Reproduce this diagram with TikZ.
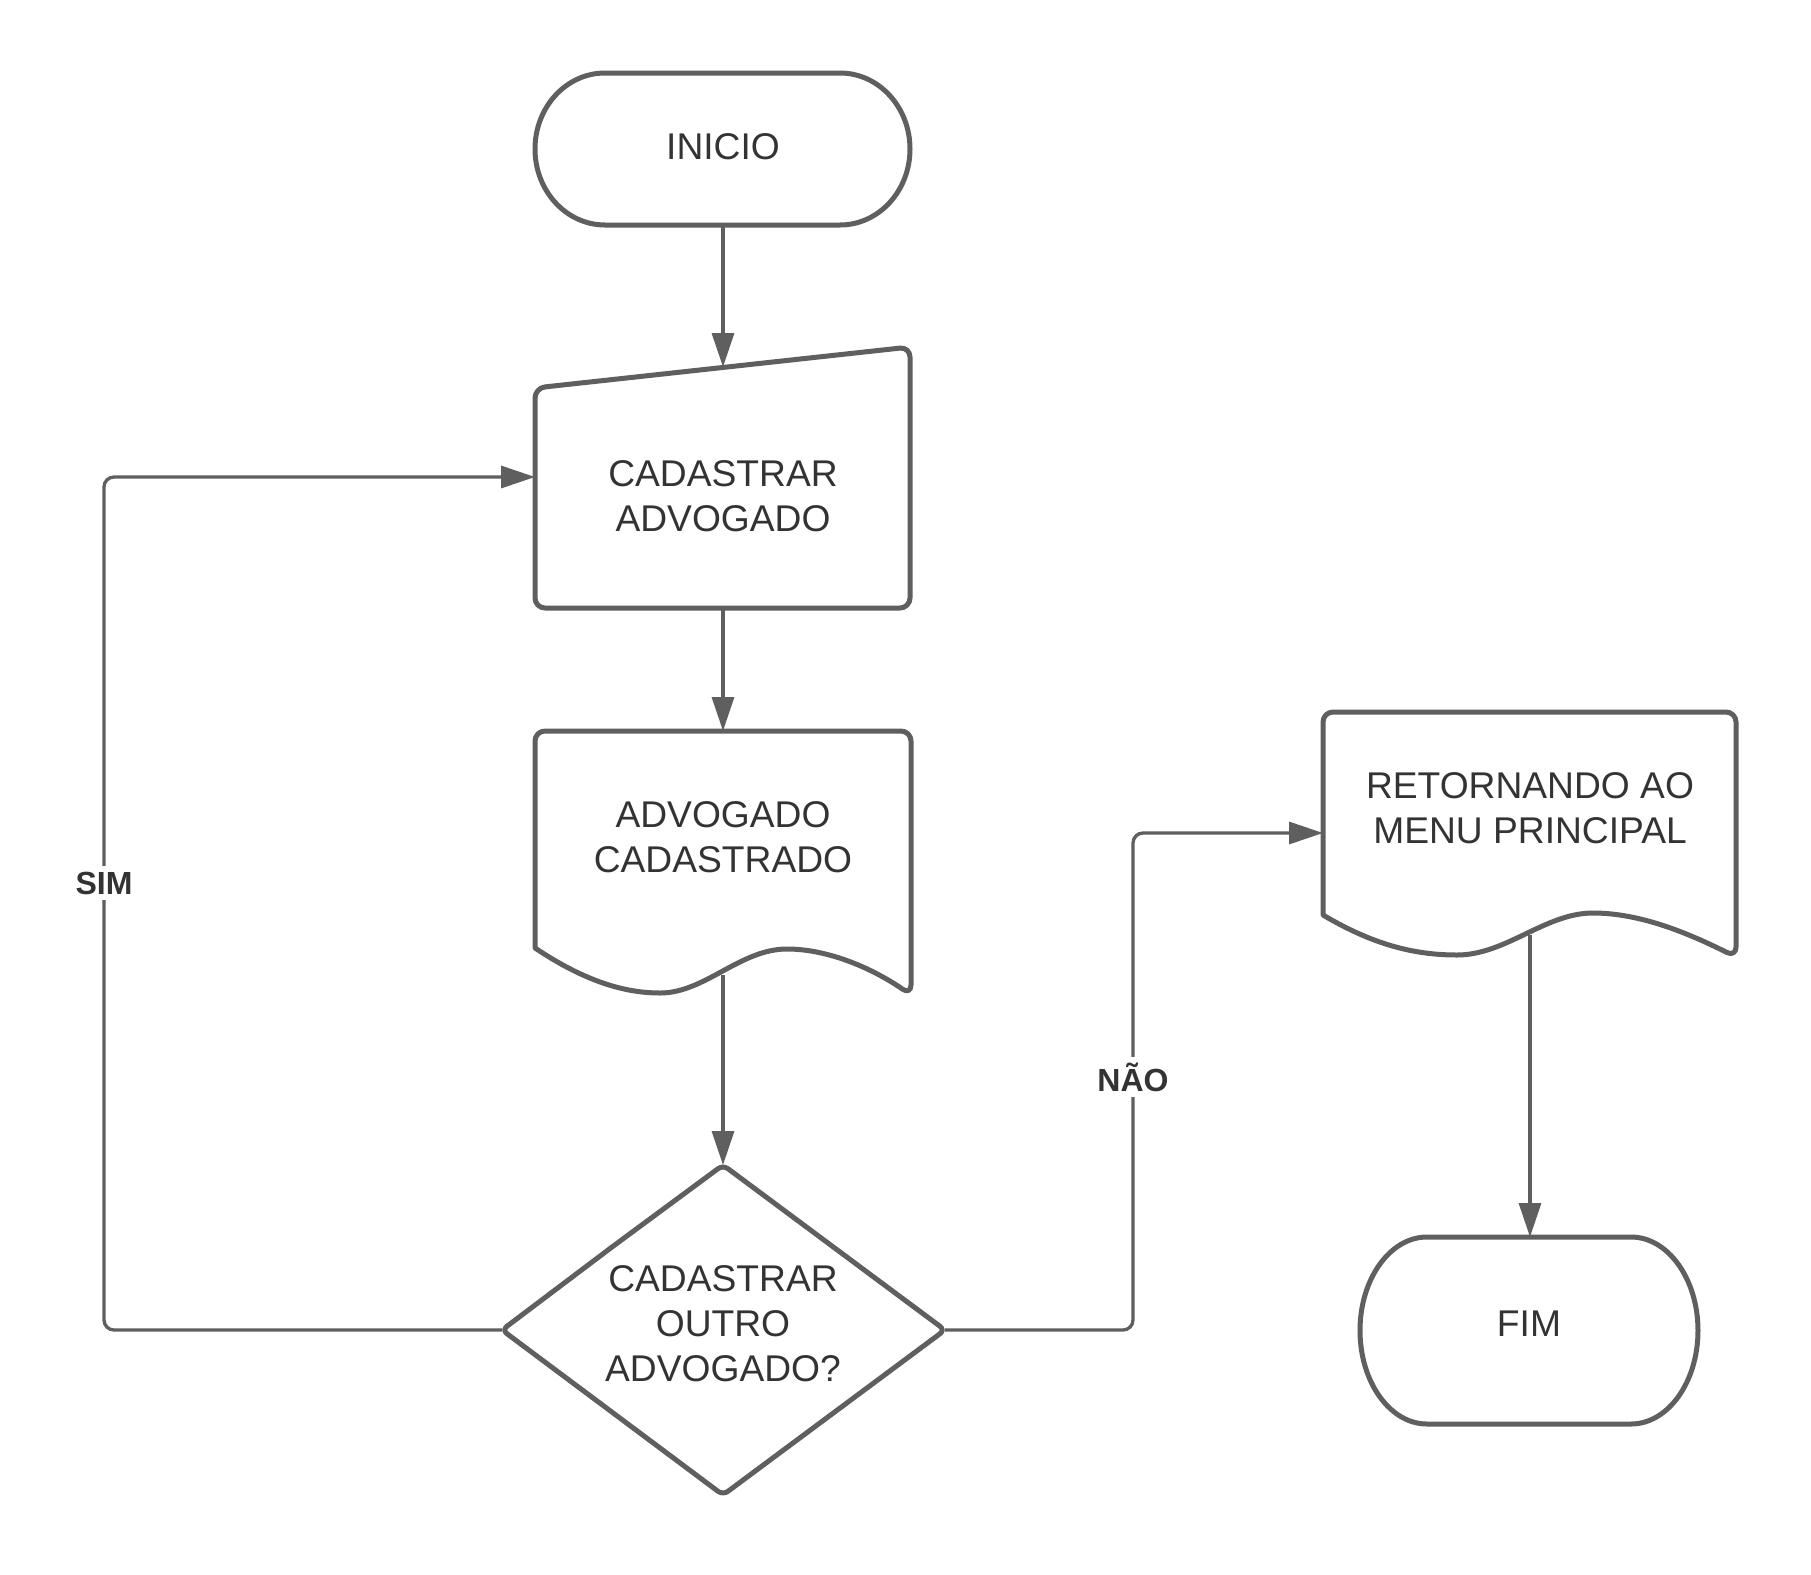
\documentclass[tikz,border=0pt]{standalone}
\usepackage{fontspec}
\setmainfont{Liberation Sans}
\usetikzlibrary{arrows.meta}

\definecolor{edge}{HTML}{5F5F5F}
\definecolor{ink}{HTML}{333333}

\tikzset{
  shapeline/.style={draw=edge, line width=2.5pt, line join=round},
  conn/.style={draw=edge, line width=1.65pt, rounded corners=5pt,
    -{Triangle[length=17pt,width=11pt]}},
  label/.style={text=ink, align=center, inner sep=0pt,
    font=\fontsize{18.6}{22.5}\selectfont},
  branch/.style={text=ink, fill=white, inner sep=3pt,
    font=\fontsize{16}{19}\selectfont\bfseries}
}

\begin{document}
\begin{tikzpicture}[x=0.5pt, y=-0.5pt]
  \fill[white] (0,0) rectangle (1811,1575);
  \useasboundingbox (0,0) rectangle (1811,1575);

  % start terminator
  \draw[shapeline] (605,73) -- (840,73)
    .. controls (878.7,73) and (910,107) .. (910,149)
    .. controls (910,191) and (878.7,225) .. (840,225)
    -- (605,225)
    .. controls (566.3,225) and (535,191) .. (535,149)
    .. controls (535,107) and (566.3,73) .. (605,73) -- cycle;
  \node[label] (inicio) at (723,147) {INICIO};

  % manual input with slanted top
  \draw[shapeline, rounded corners=5pt] (535,500) -- (535,388) -- (910,347)
    -- (910,608) -- (535,608) -- cycle;
  \node[label] (cadastrar) at (723,496) {CADASTRAR\\ADVOGADO};

  % document
  \draw[shapeline] (535,948) [rounded corners=5pt] -- (535,731) -- (911,731)
    -- (911,995) [sharp corners]
    .. controls (875,970) and (830,949) .. (787,949)
    .. controls (740,949) and (705,993) .. (660,993)
    .. controls (620,993) and (580,978) .. (535,948) -- cycle;
  \node[label] (cadastrado) at (723,837) {ADVOGADO\\CADASTRADO};

  % decision
  \draw[shapeline, rounded corners=3pt] (612,1247) -- (723,1165) -- (945,1330)
    -- (723,1495) -- (502,1330) -- cycle;
  \node[label] (decisao) at (723,1324) {CADASTRAR\\OUTRO\\ADVOGADO?};

  % document, return to menu
  \draw[shapeline] (1323,915) [rounded corners=5pt] -- (1323,712) -- (1736,712)
    -- (1736,957) [sharp corners]
    .. controls (1688,933) and (1640,913) .. (1593,913)
    .. controls (1545,913) and (1506,955) .. (1457,955)
    .. controls (1413,955) and (1372,944) .. (1323,915) -- cycle;
  \node[label] (retorno) at (1530,808) {RETORNANDO AO\\MENU PRINCIPAL};

  % end terminator
  \draw[shapeline] (1427,1237) -- (1631,1237)
    .. controls (1668,1237) and (1698,1279) .. (1698,1330.5)
    .. controls (1698,1382) and (1668,1424) .. (1631,1424)
    -- (1427,1424)
    .. controls (1390,1424) and (1360,1382) .. (1360,1330.5)
    .. controls (1360,1279) and (1390,1237) .. (1427,1237) -- cycle;
  \node[label] (fim) at (1529,1324) {FIM};

  % anchor points on the outlines
  \coordinate (inicio-s) at (723,225);
  \coordinate (cad-n) at (723,367);
  \coordinate (cad-s) at (723,608);
  \coordinate (cad-w) at (535,477);
  \coordinate (doc-n) at (723,731);
  \coordinate (doc-s) at (723,975);
  \coordinate (dec-n) at (723,1165);
  \coordinate (dec-w) at (502,1330);
  \coordinate (dec-e) at (945,1330);
  \coordinate (ret-w) at (1323,833);
  \coordinate (ret-s) at (1530,935);
  \coordinate (fim-n) at (1530,1237);
  \coordinate (sim-a) at (104,1330);
  \coordinate (sim-b) at (104,477);
  \coordinate (nao-a) at (1133,1330);
  \coordinate (nao-b) at (1133,833);

  % connectors
  \draw[conn] (inicio-s) -- (cad-n);
  \draw[conn] (cad-s) -- (doc-n);
  \draw[conn] (doc-s) -- (dec-n);
  \draw[conn] (dec-w) -- (sim-a) -- (sim-b) -- (cad-w);
  \draw[conn] (dec-e) -- (nao-a) -- (nao-b) -- (ret-w);
  \draw[conn] (ret-s) -- (fim-n);

  % branch labels
  \node[branch] (sim) at (104,883) {SIM};
  \node[branch] (nao) at (1133,1077) {NÃO};
\end{tikzpicture}
\end{document}
